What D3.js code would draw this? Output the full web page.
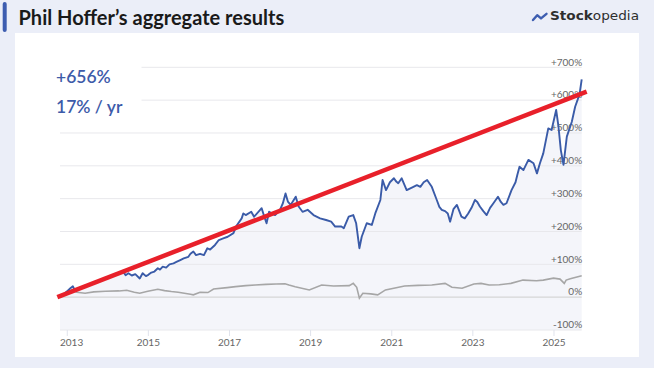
<!DOCTYPE html>
<html><head><meta charset="utf-8">
<script src="https://cdn.jsdelivr.net/npm/d3@7"></script>
<style>
html,body{margin:0;padding:0;background:#ebeef8;}
svg{display:block;}
</style></head>
<body>
<svg id="chart" width="654" height="368"></svg>
<script>
// ---- Data ----
const portfolioDates = ["2012-11-01","2012-11-20","2012-12-15","2013-01-10","2013-02-05","2013-02-25","2013-03-10","2013-04-01","2013-05-01","2013-06-01","2013-07-01","2013-08-01","2013-09-01","2013-10-01","2013-11-01","2013-12-01","2014-01-01","2014-02-01","2014-03-01","2014-04-01","2014-05-01","2014-05-20","2014-06-15","2014-07-10","2014-08-10","2014-09-10","2014-10-20","2014-11-15","2014-12-15","2015-01-05","2015-02-01","2015-03-01","2015-04-01","2015-04-20","2015-05-15","2015-06-15","2015-07-15","2015-08-20","2015-09-20","2015-10-20","2015-11-20","2016-01-01","2016-01-20","2016-02-15","2016-03-10","2016-04-15","2016-05-20","2016-06-20","2016-07-15","2016-08-28","2016-10-01","2016-11-10","2016-12-20","2017-02-10","2017-03-05","2017-04-25","2017-05-10","2017-06-01","2017-07-20","2017-08-15","2017-10-22","2017-11-15","2017-12-05","2017-12-28","2018-02-20","2018-04-05","2018-05-01","2018-05-25","2018-06-15","2018-07-10","2018-08-25","2018-09-20","2018-10-25","2018-12-10","2019-02-01","2019-04-01","2019-05-25","2019-07-10","2019-08-15","2019-10-10","2019-11-01","2019-12-15","2020-01-25","2020-02-20","2020-03-20","2020-04-10","2020-05-25","2020-07-10","2020-08-10","2020-09-25","2020-10-15","2020-11-15","2020-12-20","2021-01-25","2021-02-15","2021-03-05","2021-04-05","2021-05-20","2021-07-15","2021-08-20","2021-09-20","2021-10-20","2021-11-20","2022-01-01","2022-02-15","2022-03-10","2022-04-01","2022-05-01","2022-05-25","2022-06-15","2022-07-15","2022-08-15","2022-09-25","2022-10-25","2022-11-25","2022-12-25","2023-01-25","2023-02-15","2023-03-10","2023-04-10","2023-05-10","2023-06-10","2023-07-10","2023-08-20","2023-09-15","2023-10-08","2023-11-05","2023-12-20","2024-01-25","2024-02-10","2024-03-01","2024-04-05","2024-05-20","2024-07-05","2024-08-05","2024-09-01","2024-10-01","2024-11-15","2024-12-15","2025-01-25","2025-02-15","2025-03-08","2025-04-01","2025-05-01","2025-06-15","2025-07-15","2025-08-05","2025-08-25","2025-09-12"];
const portfolioValues = [0,6,12,20,28,33,24,21,26,30,34,38,42,47,52,55,58,63,68,72,76,79,67,73,66,70,57,73,64,68,75,78,88,84,93,90,100,103,108,113,118,123,132,139,128,132,128,149,145,159,174,179,184,195,215,240,255,250,260,245,271,245,225,260,250,266,286,316,291,281,306,276,260,266,250,240,235,230,215,215,210,245,250,225,149,184,225,220,255,296,357,326,350,362,352,347,362,326,335,341,336,350,357,336,296,275,266,262,255,230,268,281,245,240,255,272,296,290,276,262,250,272,286,306,290,281,286,326,350,372,397,387,418,408,377,408,438,514,509,570,519,448,403,489,534,580,600,621,663];

const benchmarkDates = ["2012-11-01","2013-01-20","2013-02-15","2013-04-01","2013-06-15","2013-09-01","2013-12-15","2014-04-15","2014-06-25","2014-09-01","2014-10-20","2015-01-01","2015-04-01","2015-06-01","2015-08-01","2015-10-01","2016-01-20","2016-02-15","2016-04-15","2016-06-25","2016-08-15","2016-12-15","2017-03-01","2017-06-01","2017-08-25","2017-12-01","2018-03-01","2018-05-20","2018-06-25","2018-08-20","2018-12-25","2019-04-15","2019-08-01","2019-12-20","2020-01-25","2020-02-25","2020-03-20","2020-04-20","2020-07-01","2020-09-01","2020-11-10","2021-05-01","2021-09-01","2022-01-01","2022-05-01","2022-07-01","2022-10-01","2023-01-15","2023-03-20","2023-06-01","2023-09-01","2023-12-15","2024-04-01","2024-08-01","2024-10-01","2025-01-01","2025-03-01","2025-04-08","2025-04-25","2025-06-01","2025-09-12"];
const benchmarkValues = [0,14,22,15,12,16,18,19,21,15,12,18,24,20,17,15,9,7,15,14,25,29,32,35,37,39,40,41,37,32,22,37,34,35,42,30,-3,12,10,7,22,34,36,37,42,30,27,40,42,37,38,42,52,50,52,58,55,42,52,56,65];

const trendDates = ["2012-10-08","2025-10-27"];
const trendValues = [0,626];

const yTicks = [-100,0,100,200,300,400,500,600,700];
const yearTicks = ["2013","2015","2017","2019","2021","2023","2025"];

const titleText = "Phil Hoffer\u2019s aggregate results";
const totalReturnText = "+656%";
const annualReturnText = "17% / yr";

// ---- Drawing ----
const parse = d3.timeParse("%Y-%m-%d");
const portfolio = portfolioDates.map((d,i)=>({date:parse(d), v:portfolioValues[i]}));
const benchmark = benchmarkDates.map((d,i)=>({date:parse(d), v:benchmarkValues[i]}));
const trend = trendDates.map((d,i)=>({date:parse(d), v:trendValues[i]}));

const svg = d3.select("#chart");
const plot = {left:60, right:581.7, top:67.3, bottom:330};

// header
svg.append("rect").attr("x",2.7).attr("y",2).attr("width",4).attr("height",30).attr("rx",2).attr("fill","#3d5db0");
svg.append("text").attr("x",18.5).attr("y",24.5).text(titleText)
  .attr("font-family","Lato").attr("font-weight","bold").attr("font-size",20).attr("fill","#1a1a1a");

// logo
svg.append("path").attr("d","M533,20 L537.2,15.2 L541,18.4 L546.5,13.8")
  .attr("fill","none").attr("stroke","#3d5db0").attr("stroke-width",2.4).attr("stroke-linejoin","round").attr("stroke-linecap","round");
const logo = svg.append("text").attr("x",550).attr("y",20.2)
  .attr("font-family","DejaVu Sans").attr("font-size",13).attr("fill","#2e2e2e")
  .attr("textLength",89).attr("lengthAdjust","spacingAndGlyphs");
logo.append("tspan").attr("font-weight","bold").text("Stock");
logo.append("tspan").text("opedia");

// card
svg.append("rect").attr("x",15).attr("y",33).attr("width",624).attr("height",324).attr("fill","#ffffff");

const x = d3.scaleTime().domain([parse("2012-11-01"), parse("2025-09-12")]).range([plot.left, plot.right]);
const y = d3.scaleLinear().domain([-100,700]).range([plot.bottom, plot.top]);

// area fill under portfolio line
const area = d3.area().x(d=>x(d.date)).y0(plot.bottom).y1(d=>y(d.v));
svg.append("path").datum(portfolio).attr("d",area).attr("fill","#f4f5fa");

// gridlines
svg.append("g").selectAll("line").data(yTicks).join("line")
  .attr("x1",plot.left).attr("x2",plot.right)
  .attr("y1",d=>y(d)).attr("y2",d=>y(d))
  .attr("stroke",d=>d===0?"#d6d6d6":"#e8e8ec").attr("stroke-width",d=>d===0?1.4:1);

// x axis
const xAxis = d3.axisBottom(x)
  .tickValues(yearTicks.map(t=>parse(t+"-01-01")))
  .tickFormat(d3.timeFormat("%Y")).tickSize(6).tickPadding(3);
const gx = svg.append("g").attr("transform",`translate(0,${plot.bottom})`).call(xAxis);
gx.select(".domain").remove();
gx.selectAll(".tick line").attr("stroke","#e0e3ec");
gx.selectAll(".tick text").attr("font-family","Lato").attr("font-size",10).attr("fill","#666")
  .attr("dx",(d,i)=>i===0?4.3:0);

// y labels
svg.append("g").selectAll("text").data(yTicks).join("text")
  .attr("x",plot.right+0.5).attr("y",d=>y(d)-1.8).attr("text-anchor","end")
  .attr("font-family","Lato").attr("font-size",10).attr("fill","#666")
  .text(d=>(d>0?"+":"")+d+"%");

// lines
const line = d3.line().x(d=>x(d.date)).y(d=>y(d.v));
svg.append("path").datum(benchmark).attr("d",line).attr("fill","none").attr("stroke","#a6a6a6").attr("stroke-width",1.6);
svg.append("path").datum(portfolio).attr("d",line).attr("fill","none").attr("stroke","#3a5ba8").attr("stroke-width",1.9).attr("stroke-linejoin","round");

// label box
svg.append("rect").attr("x",45).attr("y",55).attr("width",96.5).attr("height",64).attr("fill","#ffffff");
svg.append("text").attr("x",56).attr("y",83.3).text(totalReturnText)
  .attr("font-family","Lato").attr("font-weight",600).attr("font-size",17.5).attr("fill","#3d5ba9");
svg.append("text").attr("x",56).attr("y",112.7).text(annualReturnText)
  .attr("font-family","Lato").attr("font-weight",600).attr("font-size",17.5).attr("fill","#3d5ba9");

// trend line
svg.append("path").datum(trend).attr("d",line).attr("fill","none").attr("stroke","#e8202a").attr("stroke-width",4.5);
</script>
</body></html>
